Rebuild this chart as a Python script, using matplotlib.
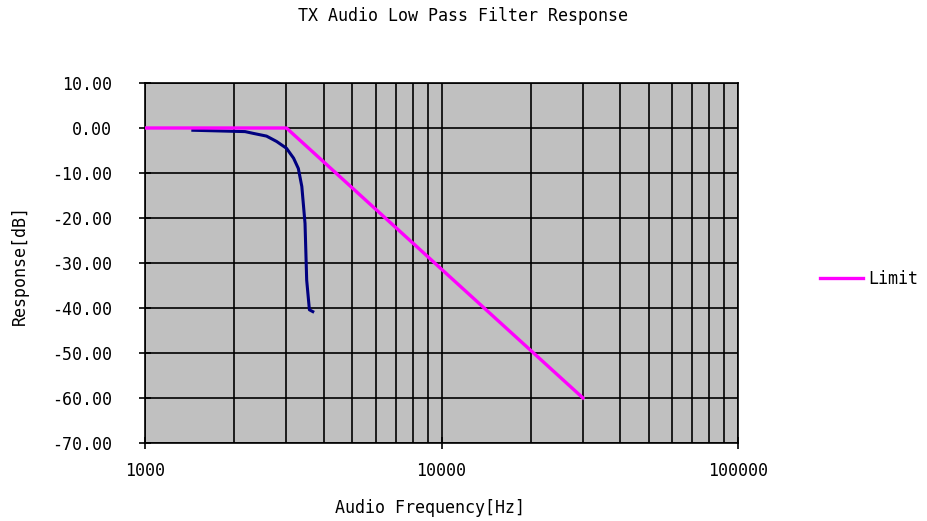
import matplotlib
matplotlib.use("Agg")
import matplotlib.pyplot as plt
from matplotlib.ticker import FixedLocator, NullFormatter, LogLocator

limit_freq = [1000, 3000, 30000]
limit_db = [0.0, 0.0, -60.0]

meas_freq = [1450, 2175, 2320, 2570, 2780, 3000, 3170, 3290, 3380, 3465, 3510, 3585, 3680]
meas_db = [-0.5, -0.8, -1.2, -1.8, -3.0, -4.5, -6.7, -9.0, -13.0, -21.2, -33.8, -40.4, -40.8]

y_ticks = [10, 0, -10, -20, -30, -40, -50, -60, -70]
x_ticks = [1000, 10000, 100000]
x_ticklabels = ["1000", "10000", "100000"]

font = "DejaVu Sans Mono"
plt.rcParams['font.family'] = [font, 'DejaVu Sans']

fig = plt.figure(figsize=(9.27, 5.21), dpi=100)
ax = fig.add_axes([145/927, 1-443/521, (738-145)/927, (443-83)/521])
ax.set_facecolor("#c0c0c0")

ax.set_xscale("log")
ax.set_xlim(1000, 100000)
ax.set_ylim(-70, 10)

ax.plot(meas_freq, meas_db, color="#000080", lw=2.2, zorder=3)
line, = ax.plot(limit_freq, limit_db, color="#ff00ff", lw=2.4, zorder=4, label="Limit")

ax.xaxis.set_major_locator(FixedLocator(x_ticks))
ax.set_xticklabels(x_ticklabels)
ax.xaxis.set_minor_locator(LogLocator(base=10, subs=range(2, 10)))
ax.xaxis.set_minor_formatter(NullFormatter())
ax.set_yticks(y_ticks)
ax.set_yticklabels([f"{v:.2f}" for v in y_ticks])

ax.grid(True, which="major", color="black", lw=1.2, zorder=1)
ax.grid(True, which="minor", axis="x", color="black", lw=1.2, zorder=1)
ax.set_axisbelow(True)

for s in ax.spines.values():
    s.set_color("black")
    s.set_linewidth(1.2)

ax.tick_params(axis="both", which="major", direction="inout", length=8, width=1.2, labelsize=12, colors="black")
ax.tick_params(axis="x", which="major", pad=10)
ax.tick_params(axis="x", which="minor", length=0)
ax.tick_params(axis="y", pad=20)

fig.text(463/927, 1-16/521, "TX Audio Low Pass Filter Response", ha="center", va="center", fontsize=12)
fig.text(430/927, 1-508/521, "Audio Frequency[Hz]", ha="center", va="center", fontsize=12)
fig.text(20/927, 1-265/521, "Response[dB]", ha="center", va="center", fontsize=12, rotation=90)

fig.legend(handles=[line], loc="center left", bbox_to_anchor=(805/927, 1-279/521),
           frameon=False, fontsize=12, handlelength=2.6, handletextpad=0.3)

fig.savefig("out.png", dpi=100, facecolor="white")
